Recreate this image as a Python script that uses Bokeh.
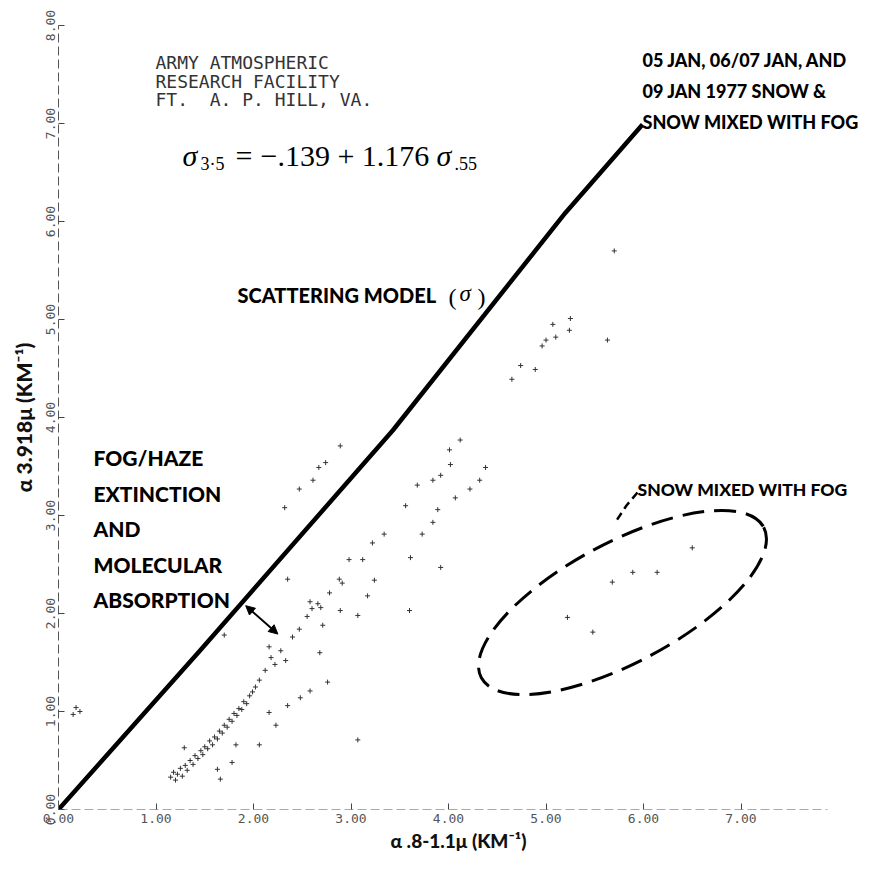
from bokeh.plotting import figure
from bokeh.models import FixedTicker, PrintfTickFormatter, Arrow, NormalHead, Label, Range1d
from bokeh.embed import file_html
from bokeh.resources import INLINE

# ---------------- data ----------------
x_ticks = [0, 1, 2, 3, 4, 5, 6, 7]
y_ticks = [0, 1, 2, 3, 4, 5, 6, 7, 8]

# scattering model line (sigma 3.5 vs sigma .55)
model_x = [0.0, 1.45, 3.43, 5.20, 5.99]
model_y = [0.0, 1.62, 3.87, 6.09, 6.99]

# observed extinction points
obs_x = [1.15, 1.18, 1.20, 1.22, 1.25, 1.27, 1.30, 1.32, 1.35, 1.38, 1.40, 1.43,
         1.46, 1.48, 1.50, 1.53, 1.55, 1.58, 1.60, 1.63, 1.65, 1.68, 1.70, 1.73,
         1.75, 1.78, 1.80, 1.83, 1.85, 1.88, 1.90, 1.93, 1.96, 1.99, 2.02, 2.06,
         0.15, 0.22, 0.18,
         2.12, 2.18, 2.22, 2.28, 2.33, 2.16, 2.40, 2.47, 2.55, 2.60, 2.66, 2.58,
         2.89, 3.07, 2.06, 1.82, 2.16, 2.35, 2.23, 2.48, 2.58, 2.76, 2.68, 2.71,
         3.07, 1.63, 1.78, 1.66, 1.29, 1.70,
         2.69, 2.78, 2.88, 2.91, 2.98, 3.12, 3.22, 3.34, 3.24, 3.17, 3.61, 3.92,
         3.60, 3.73, 3.84, 3.89, 4.07, 3.68, 3.84, 3.92, 4.02, 3.56, 4.01, 4.12,
         4.22, 4.32, 4.38, 2.61, 2.67, 2.74, 2.89, 2.47, 2.32, 2.35,
         5.70, 5.25, 5.24, 5.07, 5.10, 5.00, 4.96, 5.63, 4.74, 4.89, 4.65,
         5.89, 5.68, 5.22, 5.48, 6.50, 6.14]
obs_y = [0.33, 0.38, 0.30, 0.36, 0.42, 0.34, 0.45, 0.40, 0.50, 0.46, 0.55, 0.52,
         0.60, 0.56, 0.64, 0.62, 0.70, 0.66, 0.74, 0.72, 0.80, 0.78, 0.86, 0.84,
         0.92, 0.90, 0.98, 0.96, 1.03, 1.02, 1.10, 1.08, 1.16, 1.20, 1.25, 1.32,
         0.97, 1.00, 1.04,
         1.42, 1.55, 1.48, 1.62, 1.52, 1.66, 1.76, 1.84, 1.97, 2.05, 2.10, 2.12,
         2.03, 1.98, 0.66, 0.66, 0.99, 1.06, 0.86, 1.14, 1.21, 1.30, 1.60, 1.88,
         0.71, 0.41, 0.48, 0.31, 0.63, 1.78,
         2.06, 2.21, 2.35, 2.31, 2.55, 2.55, 2.72, 2.81, 2.34, 2.18, 2.57, 2.47,
         2.03, 2.81, 2.93, 3.06, 3.18, 3.31, 3.36, 3.41, 3.52, 3.10, 3.67, 3.77,
         3.27, 3.36, 3.49, 3.36, 3.49, 3.54, 3.71, 3.27, 3.08, 2.35,
         5.70, 5.01, 4.89, 4.95, 4.82, 4.79, 4.73, 4.79, 4.53, 4.49, 4.39,
         2.42, 2.32, 1.96, 1.81, 2.67, 2.42]

# ---------------- layout helpers (annotation placement only) ----------------
X0, XS = 66.0, 97.5
Y0, YS = 817.0, 98.0
def X(px):
    return (px - X0) / XS
def Y(py):
    return (Y0 - py) / YS

BOLD = "'Lato Black', Lato, sans-serif"
SERIF = "'Liberation Serif', serif"
MONO = "'DejaVu Sans Mono', monospace"

FRAME_W = 800
p = figure(width=858, height=855, output_backend="svg", toolbar_location=None,
           x_range=Range1d(0, FRAME_W / XS), y_range=Range1d(0, 8.0),
           min_border_left=58, min_border_right=0, min_border_top=25,
           min_border_bottom=40)
p.frame_width = FRAME_W
p.frame_height = 784
p.outline_line_color = None
p.grid.visible = False
p.background_fill_color = "white"

for ax in (p.xaxis[0], p.yaxis[0]):
    ax.axis_line_color = "#555555"
    ax.axis_line_dash = "9 4"
    ax.axis_line_width = 1
    ax.major_tick_in = 6
    ax.major_tick_out = 0
    ax.minor_tick_line_color = None
    ax.major_tick_line_color = "#444444"
    ax.major_label_text_font = MONO
    ax.major_label_text_font_size = "13px"
    ax.major_label_text_color = "#555555"
    ax.formatter = PrintfTickFormatter(format="%.2f")
    ax.axis_label_text_font = BOLD
    ax.axis_label_text_font_style = "bold"
    ax.axis_label_text_color = "#111111"
    ax.axis_label_standoff = 3
    ax.major_label_standoff = 4

p.xaxis[0].axis_line_color = None
p.xaxis[0].ticker = FixedTicker(ticks=x_ticks)
p.yaxis[0].ticker = FixedTicker(ticks=y_ticks)
p.yaxis[0].major_label_orientation = "vertical"
p.yaxis[0].axis_label_standoff = 7
p.xaxis[0].axis_label_text_font_size = "19px"
p.yaxis[0].axis_label_text_font_size = "21px"
p.xaxis[0].axis_label = "\u03b1 .8-1.1\u03bc (KM\u207b\u00b9)"
p.yaxis[0].axis_label = "\u03b1 3.918\u03bc (KM\u207b\u00b9)"

# x axis base line (dashed, ends short of the right edge as in the original)
p.line([0, X(835)], [0, 0], line_color="#555555", line_width=1, line_dash="9 4")

# scattering model line
p.line(model_x, model_y, line_color="black", line_width=4.5)

# observations
p.scatter(obs_x, obs_y, marker="cross", size=5, line_color="#333333", line_width=1)

# dashed ellipse around "snow mixed with fog"
p.ellipse(x=[X(630)], y=[Y(610)], width=[320 / XS], height=[120 / YS],
          angle=[0.49], fill_color=None, line_color="black", line_width=3,
          line_dash="22 10")
p.line([X(645), X(634), X(624)], [Y(500), Y(513), Y(528)],
       line_color="black", line_width=2.5, line_dash="8 5")

# double-headed arrow
p.add_layout(Arrow(start=NormalHead(size=9, fill_color="black", line_color="black"),
                   end=NormalHead(size=9, fill_color="black", line_color="black"),
                   x_start=1.92, y_start=2.08, x_end=2.25, y_end=1.79,
                   line_width=2, line_color="black"))

def lab(txt, px, py, size, font=BOLD, style="bold", color="black", align="left"):
    p.add_layout(Label(x=X(px), y=Y(py), text=txt, text_font=font,
                       text_font_style=style, text_font_size=f"{size}px",
                       text_color=color, text_align=align,
                       text_baseline="alphabetic"))

# station block
for i, t in enumerate(["ARMY ATMOSPHERIC", "RESEARCH FACILITY",
                       "FT.\u00a0\u00a0A. P. HILL, VA."]):
    lab(t, 163, 70 + i * 18.5, 18, font=MONO, style="normal", color="#333333")

# equation
lab("\u03c3", 190, 163, 30, font=SERIF, style="italic")
lab("3\u00b75", 208, 171, 18, font=SERIF, style="normal")
lab("=", 243, 163, 30, font=SERIF, style="normal")
lab("\u2212.139 + 1.176", 268, 163, 30, font=SERIF, style="normal")
lab("\u03c3", 444, 163, 30, font=SERIF, style="italic")
lab(".55", 462, 171, 18, font=SERIF, style="normal")

# scattering model label
lab("SCATTERING MODEL", 245, 302, 20)
lab("(", 456, 304, 24, font=SERIF, style="normal")
lab("\u03c3", 467, 301, 23, font=SERIF, style="italic")
lab(")", 485, 304, 24, font=SERIF, style="normal")

# fog/haze block
for i, t in enumerate(["FOG/HAZE", "EXTINCTION", "AND", "MOLECULAR", "ABSORPTION"]):
    lab(t, 101, 465 + i * 35.5, 21)

# date block
for i, t in enumerate(["05 JAN, 06/07 JAN, AND", "09 JAN 1977 SNOW &",
                       "SNOW MIXED WITH FOG"]):
    lab(t, 650, 67 + i * 31, 18)

lab("SNOW MIXED WITH FOG", 645, 497, 17.5)

open("out.html", "w").write(file_html(p, INLINE))
